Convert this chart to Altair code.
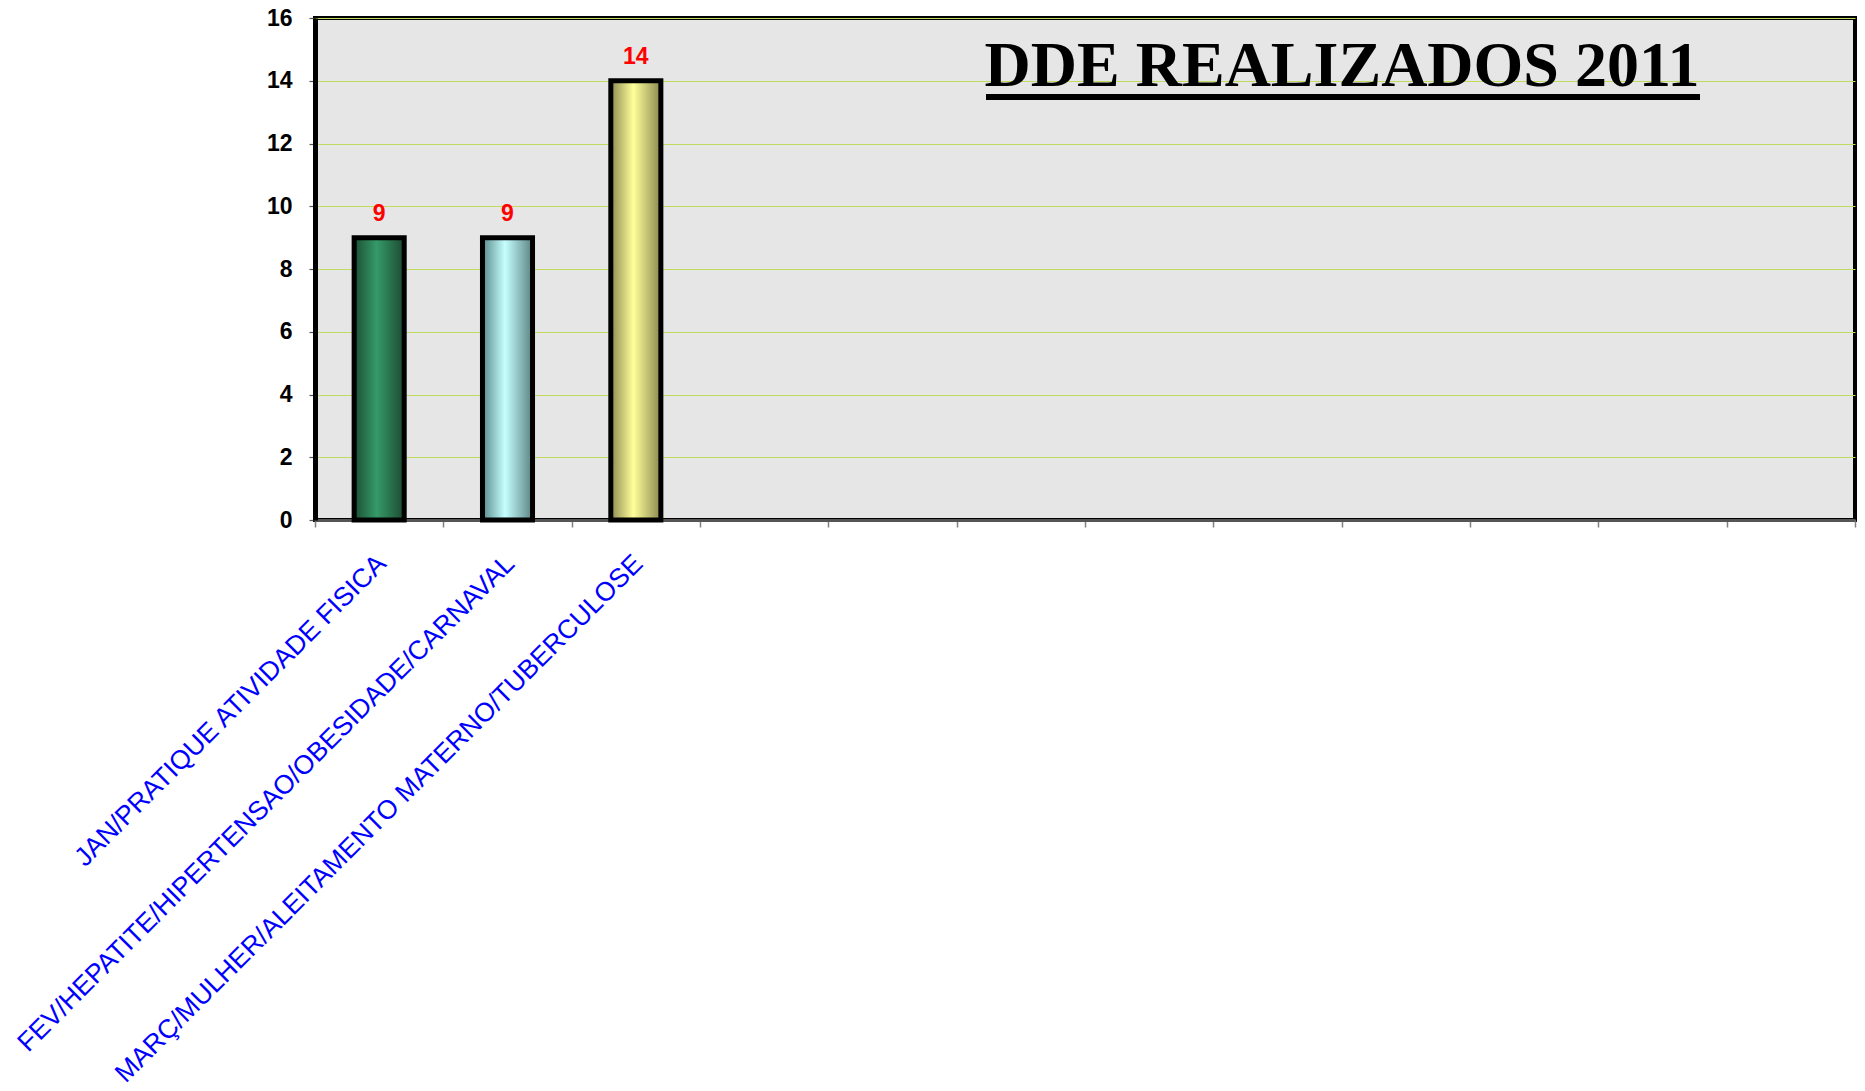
import altair as alt
import pandas as pd

# ---- data ----
slots = list(range(12))
labels = [
    "JAN/PRATIQUE ATIVIDADE FISICA",
    "FEV/HEPATITE/HIPERTENSAO/OBESIDADE/CARNAVAL",
    "MARÇ/MULHER/ALEITAMENTO MATERNO/TUBERCULOSE",
    "", "", "", "", "", "", "", "", "",
]
values = [9, 9, 14]
title_text = "DDE REALIZADOS 2011"
y_ticks = [0, 2, 4, 6, 8, 10, 12, 14, 16]

# gradient styles per bar (edge, center, edge)
bar_gradients = [
    ["#1b4f33", "#349a68", "#1d4a31"],
    ["#5a8b8c", "#c6ffff", "#5b8384"],
    ["#8c8a52", "#ffff99", "#8a8850"],
]

df = pd.DataFrame({"slot": slots[: len(values)], "value": values})

label_expr = "[" + ",".join("'" + s + "'" for s in labels) + "][datum.value]"

x_enc = alt.X(
    "slot:O",
    scale=alt.Scale(domain=slots, paddingInner=0, paddingOuter=0),
    axis=alt.Axis(
        title=None,
        labelExpr=label_expr,
        labelAngle=-45,
        labelColor="#0000ff",
        labelFont="Liberation Sans",
        labelFontSize=26.5,
        labelPadding=23,
        labelOffset=-7,
        labelLimit=1000,
        labelOverlap=False,
        tickBand="extent",
        tickColor="#808080",
        tickSize=7,
        tickWidth=1.5,
        domainColor="#555555",
        domainWidth=3,
        grid=False,
    ),
)
y_enc = alt.Y(
    "value:Q",
    scale=alt.Scale(domain=[0, 16], nice=False),
    axis=alt.Axis(
        title=None,
        values=y_ticks,
        labelFont="Liberation Sans",
        labelFontWeight="bold",
        labelFontSize=23,
        labelColor="black",
        labelPadding=17,
        tickColor="#555555",
        tickSize=6,
        tickWidth=1.2,
        domainColor="black",
        domainWidth=5,
        gridColor="#bfdc5e",
        gridWidth=1.2,
    ),
)

layers = []
for i, stops in enumerate(bar_gradients):
    grad = alt.Gradient(
        gradient="linear",
        stops=[
            alt.GradientStop(color=stops[0], offset=0),
            alt.GradientStop(color=stops[1], offset=0.45),
            alt.GradientStop(color=stops[2], offset=1),
        ],
        x1=0, x2=1, y1=0, y2=0,
    )
    layers.append(
        alt.Chart(df)
        .transform_filter(alt.datum.slot == slots[i])
        .mark_bar(
            color=grad,
            stroke="black",
            strokeWidth=5,
            width=alt.RelativeBandSize(0.39),
        )
        .encode(x=x_enc, y=y_enc)
    )

value_text = (
    alt.Chart(df)
    .mark_text(
        color="#ff0000",
        font="Liberation Sans",
        fontWeight="bold",
        fontSize=23,
        baseline="bottom",
        dy=-12,
    )
    .encode(x=x_enc, y=y_enc, text="value:Q")
)

title_df = pd.DataFrame({"t": [title_text]})
title_mark = (
    alt.Chart(title_df)
    .mark_text(
        font="Liberation Serif",
        fontWeight="bold",
        fontSize=64,
        color="black",
        align="center",
        baseline="alphabetic",
    )
    .encode(text="t:N", x=alt.value(1027), y=alt.value(68))
)
underline = (
    alt.Chart(title_df)
    .mark_rule(color="black", strokeWidth=6)
    .encode(x=alt.value(671), x2=alt.value(1385), y=alt.value(79))
)

chart = (
    alt.layer(*layers, value_text, title_mark, underline)
    .properties(
        width=1540,
        height=502,
        autosize=alt.AutoSizeParams(type="none"),
        padding={"left": 307, "top": 10, "right": 2, "bottom": 563},
        background="white",
    )
    .configure_view(fill="#e6e6e6", stroke="black", strokeWidth=4)
)

chart.save("out.html", embed_options={"renderer": "svg", "actions": False})
